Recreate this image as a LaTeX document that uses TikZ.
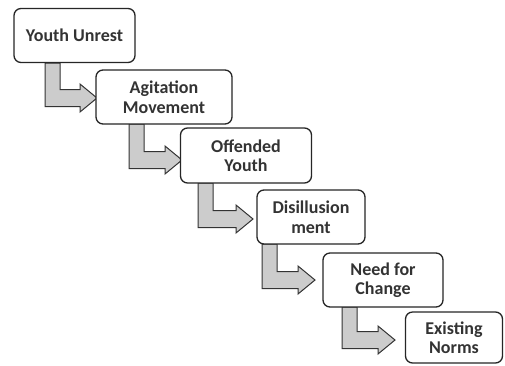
\documentclass[tikz,border=0pt]{standalone}
\usepackage{fontspec}
\setmainfont{Carlito}
\begin{document}
\begin{tikzpicture}[x=1pt,y=-1pt,
  stage/.style={draw=black!85,line width=1.3pt,rounded corners=7pt,fill=white,
    align=center,font=\fontsize{18}{19.5}\selectfont\bfseries,text=black!80,inner sep=0pt},
  elbowarrow/.style={draw=black!80,line width=1pt,fill=black!20,line join=miter}]
\useasboundingbox (0,0) rectangle (505,365);
\newcommand\elbow[4]{% xl, ytop, ytip, xtip
  \draw[elbowarrow] (#1,#2) -- ++(15,0) |- (#4-17,#3-8.5) -- (#4-17,#3-14)
    -- (#4,#3) -- (#4-17,#3+14) -- (#4-17,#3+8.5) -| cycle;}
\elbow{45}{63}{98}{97}
\elbow{129}{124}{160}{182}
\elbow{198}{183}{219}{253}
\elbow{262}{244}{280}{315}
\elbow{342}{307}{340}{395}
\node[stage,minimum width=121pt,minimum height=54pt] (b1) at (74.5,35.5) {Youth Unrest};
\node[stage,minimum width=136pt,minimum height=54pt] (b2) at (164,97) {Agitation\\Movement};
\node[stage,minimum width=131pt,minimum height=55pt] (b3) at (246,155.5) {Offended\\Youth};
\node[stage,minimum width=108pt,minimum height=54pt] (b4) at (311,217) {Disillusion\\ment};
\node[stage,minimum width=120pt,minimum height=54pt] (b5) at (383,280) {Need for\\Change};
\node[stage,minimum width=97pt,minimum height=51pt] (b6) at (454,337.5) {Existing\\Norms};
\end{tikzpicture}
\end{document}
